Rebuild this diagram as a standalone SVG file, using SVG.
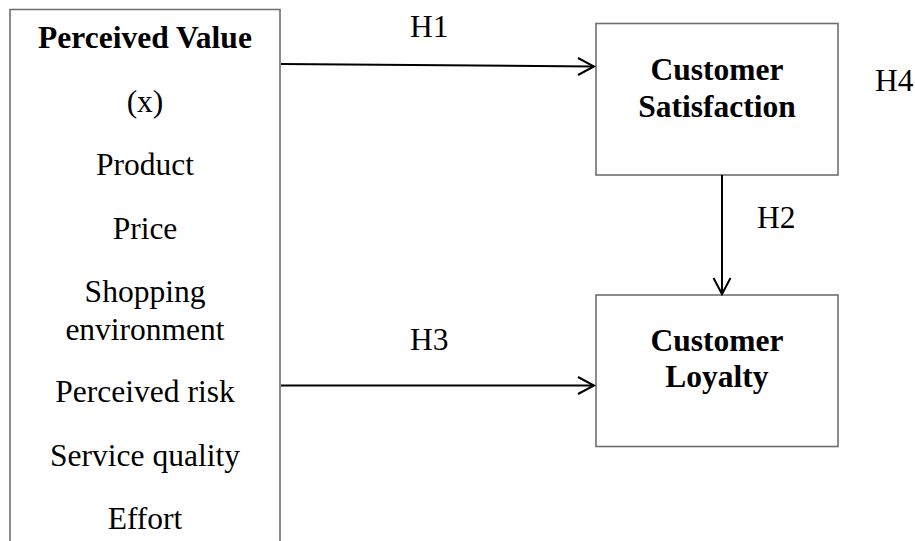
<svg xmlns="http://www.w3.org/2000/svg" width="915" height="541" viewBox="0 0 915 541">
<style>
.box{fill:#fff;stroke:#6e6e6e;stroke-width:1.6}
.t{font-family:"Liberation Serif","Times New Roman",serif;font-size:31.5px;fill:#000;text-anchor:middle}
.b{font-weight:bold}
.lbl{font-family:"Liberation Serif","Times New Roman",serif;font-size:31.5px;fill:#000}
.c{stroke:#000;stroke-width:2;fill:none}
.ah{stroke:#000;stroke-width:2;fill:none}
</style>
<rect width="915" height="541" fill="#fff"/>
<g id="perceived-value">
<path class="box" d="M10,541 V9.5 H280 V541"/>
<text class="t b" x="145" y="48">Perceived Value</text>
<text class="t" x="145" y="112">(x)</text>
<text class="t" x="145" y="175">Product</text>
<text class="t" x="145" y="239">Price</text>
<text class="t" x="145" y="302">Shopping</text>
<text class="t" x="145" y="340">environment</text>
<text class="t" x="145" y="402">Perceived risk</text>
<text class="t" x="145" y="466">Service quality</text>
<text class="t" x="145" y="529">Effort</text>
</g>
<g id="customer-satisfaction">
<rect class="box" x="596" y="23.5" width="242" height="151.5"/>
<text class="t b" x="717" y="80">Customer</text>
<text class="t b" x="717" y="117">Satisfaction</text>
</g>
<g id="customer-loyalty">
<rect class="box" x="596" y="295" width="242" height="151.5"/>
<text class="t b" x="717" y="351">Customer</text>
<text class="t b" x="717" y="387">Loyalty</text>
</g>
<g id="connectors">
<line class="c" x1="281" y1="64" x2="594" y2="66.5"/>
<path class="ah" d="M578,58 L594,66.5 L578,75"/>
<line class="c" x1="722" y1="175" x2="722" y2="294"/>
<path class="ah" d="M713.5,278 L722,294 L730.5,278"/>
<line class="c" x1="281" y1="385.5" x2="594" y2="385.5"/>
<path class="ah" d="M578,377 L594,385.5 L578,394"/>
</g>
<g id="labels">
<text class="lbl" x="410" y="37">H1</text>
<text class="lbl" x="757" y="228">H2</text>
<text class="lbl" x="410" y="350">H3</text>
<text class="lbl" x="875" y="91">H4</text>
</g>
</svg>
